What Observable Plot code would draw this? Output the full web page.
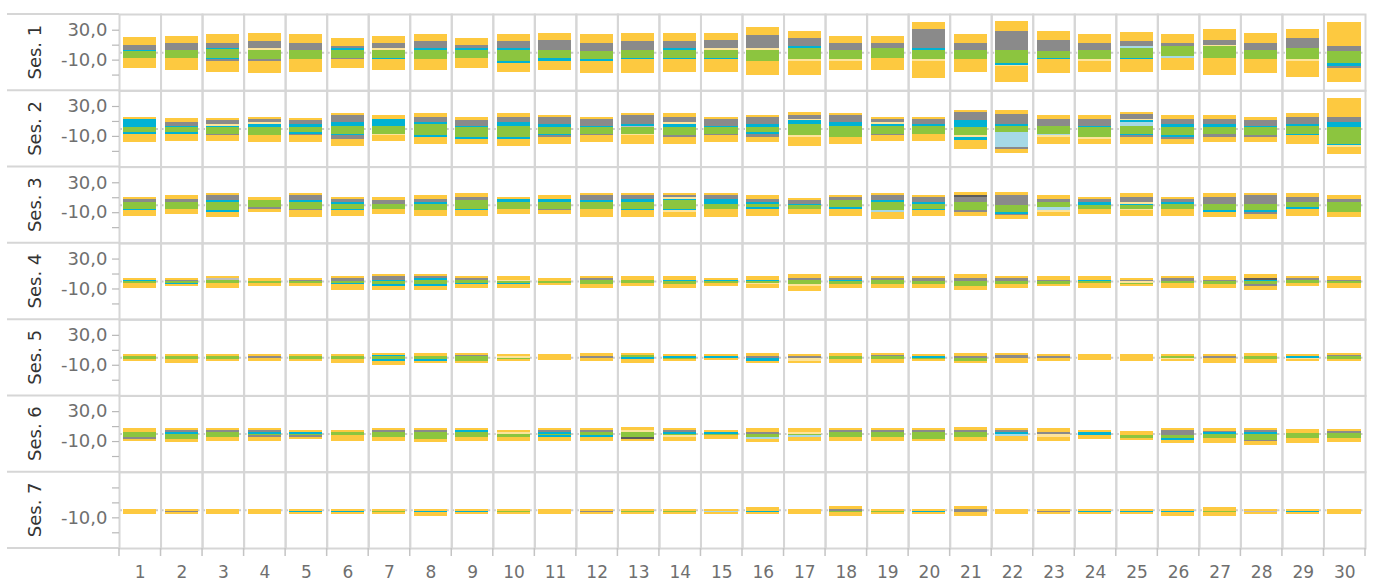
<!DOCTYPE html>
<html>
<head>
<meta charset="utf-8">
<script src="https://cdn.jsdelivr.net/npm/d3@7"></script>
<script src="https://cdn.jsdelivr.net/npm/@observablehq/plot@0.6"></script>
<style>
  body { margin: 0; background: #fff; }
</style>
</head>
<body>
<div id="chart"></div>
<script>
// ---- categories & colours ----
const catKeys   = ["Y", "G", "C", "N", "L", "B", "S", "D"];
const catColors = ["#fdc940", "#8a8a8a", "#00b2d3", "#8cc53f", "#fde49b", "#a6d9e6", "#bdbdbd", "#5c5c5c"];

// ---- axes ----
const days = [1,2,3,4,5,6,7,8,9,10,11,12,13,14,15,16,17,18,19,20,21,22,23,24,25,26,27,28,29,30];
const xLabels = ["1","2","3","4","5","6","7","8","9","10","11","12","13","14","15","16","17","18","19","20","21","22","23","24","25","26","27","28","29","30"];
const sessions = ["Ses. 1", "Ses. 2", "Ses. 3", "Ses. 4", "Ses. 5", "Ses. 6", "Ses. 7"];
const yTicks = [30, 10, -10, -30];
const yLabelValues = [30, -10];
const yLabelTexts = ["30,0", "-10,0"];

// ---- data: each cell lists [category, value] pairs, stacked outward from zero in order ----
const ses1 = [
  ["N",1.8,"C",1.3,"G",6.7,"Y",10.7,"N",-7.6,"Y",-13.4],
  ["N",3.1,"G",9.4,"Y",9.4,"N",-7.6,"Y",-16.1],
  ["N",3.6,"C",2.2,"G",6.7,"Y",12.1,"N",-7.2,"C",-1.8,"G",-2.2,"Y",-15.2],
  ["N",3.1,"L",2.7,"G",9.4,"Y",10.7,"N",-8.9,"G",-2.7,"Y",-16.1],
  ["N",3.1,"G",9.4,"Y",12.1,"N",-8.9,"Y",-17.4],
  ["N",3.1,"C",2.7,"G",2.7,"Y",10.7,"N",-7.6,"G",-1.3,"Y",-12.1],
  ["N",3.1,"L",2.7,"G",6.7,"Y",9.4,"N",-7.6,"C",-1.3,"Y",-14.8],
  ["N",3.1,"C",2.7,"G",9.4,"Y",9.4,"N",-8.9,"Y",-14.8],
  ["N",3.1,"C",2.7,"G",4,"Y",9.4,"N",-7.6,"Y",-13.4],
  ["N",3.1,"C",2.7,"G",9.4,"Y",9.4,"N",-11.6,"C",-2.7,"Y",-12.1],
  ["N",3.1,"G",13.4,"Y",9.4,"N",-7.6,"C",-4,"Y",-12.1],
  ["N",1.8,"G",10.7,"Y",12.1,"N",-8.9,"C",-2.7,"Y",-16.1],
  ["N",3.1,"G",12.1,"Y",10.7,"N",-7.6,"C",-1.3,"Y",-18.8],
  ["N",3.1,"C",2.7,"G",9.4,"Y",10.7,"N",-7.6,"C",-1.3,"Y",-17.4],
  ["N",3.1,"L",2.7,"G",10.7,"Y",9.4,"N",-7.6,"C",-1.3,"Y",-17.4],
  ["N",3.1,"L",2.2,"G",17.9,"Y",10.7,"N",-11.6,"Y",-18.8],
  ["N",5.8,"C",2.7,"G",10.7,"Y",9.4,"N",-8.9,"L",-2.7,"Y",-18.8],
  ["N",3.1,"G",9.4,"Y",9.4,"N",-8.9,"L",-2.7,"Y",-12.1],
  ["N",5.8,"G",6.7,"Y",9.4,"N",-7.6,"Y",-16.1],
  ["N",3.1,"C",2.7,"G",25.5,"Y",9.4,"N",-8.9,"L",-2.7,"Y",-22.8],
  ["N",3.1,"G",9.4,"Y",12.1,"N",-8.9,"Y",-17.4],
  ["N",3.1,"G",25.5,"Y",13.4,"N",-14.3,"C",-2.7,"L",-1.3,"Y",-21.5],
  ["N",1.8,"G",14.8,"Y",12.1,"N",-7.6,"C",-1.3,"Y",-18.8],
  ["N",3.1,"G",9.4,"Y",12.1,"N",-8.9,"L",-2.7,"Y",-14.8],
  ["N",5.8,"B",2.7,"G",6.7,"Y",12.1,"N",-7.6,"C",-1.3,"Y",-17.4],
  ["N",8.5,"G",4,"Y",12.1,"N",-4.9,"B",-2.7,"Y",-16.1],
  ["N",8.5,"L",1.3,"G",6.7,"Y",14.8,"N",-7.6,"Y",-22.8],
  ["N",3.1,"G",9.4,"Y",13.4,"N",-8.9,"Y",-18.8],
  ["N",5.8,"G",13.4,"Y",12.1,"N",-8.9,"L",-2.7,"Y",-21.5],
  ["N",1.8,"G",6.7,"Y",32.2,"N",-14.3,"C",-4,"G",-2.7,"Y",-18.8]
];
const ses2 = [
  ["N",1.8,"C",10.7,"Y",2.7,"N",-4.9,"C",-2.7,"Y",-10.7],
  ["N",1.8,"C",1.3,"G",5.4,"Y",5.4,"N",-4.9,"C",-2.7,"Y",-9.4],
  ["N",1.8,"C",1.3,"L",2.7,"G",5.4,"Y",2.7,"N",-7.6,"G",-1.3,"Y",-8],
  ["N",2,"C",4,"L",2.7,"G",4,"Y",2.7,"N",-8.7,"Y",-9.4],
  ["N",2,"C",4,"G",5.4,"Y",2.7,"N",-4.7,"C",-2.7,"G",-1.3,"Y",-9.4],
  ["N",3.4,"C",5.4,"G",9.4,"Y",2.7,"N",-7.4,"C",-1.3,"G",-5.4,"Y",-9.4],
  ["N",3.4,"C",9.4,"Y",5.4,"N",-7.4,"L",-1.3,"Y",-8],
  ["N",6,"C",2.7,"G",6.7,"Y",5.4,"N",-8.7,"C",-2.7,"Y",-9.4],
  ["N",2,"C",1.3,"G",8,"Y",4,"N",-11.4,"C",-2.7,"Y",-6.7],
  ["N",3.4,"C",5.4,"G",6.7,"Y",5.4,"N",-11.4,"C",-2.7,"Y",-9.4],
  ["N",2,"C",4,"G",9.4,"Y",2.7,"N",-7.4,"C",-1.3,"G",-2.7,"Y",-9.4],
  ["N",2,"C",1.3,"G",9.4,"Y",2.7,"N",-7.4,"G",-1.3,"Y",-9.4],
  ["N",2,"S",1.3,"C",2.7,"G",12.1,"Y",2.7,"N",-7.4,"L",-1.3,"Y",-12.1],
  ["N",2,"C",4,"L",2.7,"G",6.7,"Y",5.4,"N",-8.7,"G",-2.7,"Y",-9.4],
  ["N",2,"C",1.3,"G",9.4,"Y",2.7,"N",-7.4,"G",-1.3,"Y",-9.4],
  ["N",1.8,"C",4,"G",9.4,"Y",2.7,"N",-4.9,"C",-2.7,"G",-4,"Y",-6.7],
  ["N",5.8,"C",5.4,"L",1.3,"G",5.4,"Y",4,"N",-8.9,"L",-2.7,"Y",-12.1],
  ["N",3.1,"C",5.4,"G",9.4,"Y",2.7,"N",-11.6,"Y",-9.4],
  ["N",3.1,"C",2.7,"L",2.7,"G",4,"Y",2.7,"N",-7.6,"G",-1.3,"Y",-8],
  ["N",3.1,"C",2.7,"G",6.7,"Y",2.7,"N",-7.6,"Y",-9.4],
  ["N",1.8,"C",9.4,"G",10.7,"Y",2.7,"N",-8.9,"L",-2.2,"C",-4,"Y",-12.5],
  ["N",3.1,"C",2.7,"G",13.4,"Y",5.4,"N",-4.9,"B",-20.1,"G",-2.7,"Y",-5.4],
  ["N",3.4,"G",9.4,"Y",5.4,"N",-7.4,"B",-1.3,"L",-2.7,"Y",-9.4],
  ["N",2,"C",1.3,"G",9.4,"Y",5.4,"N",-11.4,"L",-2.7,"Y",-6.7],
  ["N",3.4,"B",5.4,"C",2.7,"L",1.3,"G",6.7,"Y",2.7,"N",-7.4,"C",-1.3,"G",-2.7,"Y",-9.4],
  ["N",1.8,"C",4,"G",6.7,"Y",5.4,"N",-8.9,"C",-2.7,"G",-2.7,"Y",-6.7],
  ["N",1.8,"C",4,"G",6.7,"Y",5.4,"N",-7.6,"G",-4,"Y",-6.7],
  ["N",1.8,"C",1.3,"G",8,"Y",4,"N",-8.9,"G",-2.7,"Y",-6.7],
  ["N",3.1,"C",2.7,"G",9.4,"Y",5.4,"N",-7.6,"C",-1.3,"Y",-12.1],
  ["N",1.8,"C",6.7,"G",6.7,"Y",25.5,"N",-21,"C",-1.3,"L",-2.7,"Y",-9.4]
];
const ses3 = [
  ["N",4,"G",4,"Y",2.7,"N",-5.4,"C",-1.3,"Y",-8],
  ["N",4,"G",4,"Y",5.4,"N",-5.4,"Y",-6.7],
  ["N",4,"C",2.7,"G",6.7,"Y",2.7,"N",-6.7,"C",-2.7,"Y",-6.7],
  ["N",6.7,"Y",4,"N",-2.7,"G",-2.7,"Y",-4],
  ["N",4,"C",2.7,"G",6.7,"Y",2.7,"N",-5.4,"G",-1.3,"Y",-9.4],
  ["N",1.3,"C",2.7,"G",4,"Y",2.7,"N",-5.4,"C",-1.3,"Y",-8],
  ["N",1.3,"G",5.4,"Y",4,"N",-5.4,"Y",-6.7],
  ["N",1.3,"C",2.7,"G",4,"Y",5.4,"N",-6.7,"Y",-8],
  ["N",6.7,"G",4,"Y",5.4,"N",-5.4,"C",-1.3,"Y",-8],
  ["N",4,"C",4,"Y",2.7,"N",-5.4,"Y",-6.7],
  ["N",4,"C",4,"Y",5.4,"N",-5.4,"G",-1.3,"Y",-5.4],
  ["N",4,"C",2.7,"G",6.7,"Y",2.7,"N",-5.4,"Y",-10.7],
  ["N",4,"C",4,"G",5.4,"Y",2.7,"N",-5.4,"C",-1.3,"Y",-9.4],
  ["N",6.7,"C",1.3,"L",2.7,"G",2.7,"Y",2.7,"N",-5.4,"C",-1.3,"L",-2.7,"Y",-6.7],
  ["N",1.3,"C",6.7,"G",5.4,"Y",2.7,"N",-5.4,"Y",-10.7],
  ["N",1.3,"C",2.7,"G",4,"Y",5.4,"N",-2.7,"C",-2.7,"Y",-9.4],
  ["C",1.3,"G",5.4,"Y",2.7,"N",-5.4,"Y",-6.7],
  ["N",6.7,"G",4,"Y",2.7,"N",-2.7,"C",-2.7,"Y",-9.4],
  ["N",4,"C",2.7,"G",6.7,"Y",2.7,"N",-6.7,"B",-2.7,"Y",-9.4],
  ["N",1.3,"C",2.7,"G",6.7,"Y",2.7,"N",-5.4,"C",-1.3,"Y",-8],
  ["N",4,"G",6.7,"D",2.7,"Y",4,"N",-6.7,"G",-2.7,"Y",-5.4],
  ["G",13.4,"Y",4,"N",-9.4,"C",-2.7,"G",-1.3,"Y",-5.4],
  ["N",4,"G",4,"Y",5.4,"N",-2.7,"B",-4,"L",-2.7,"Y",-5.4],
  ["C",4,"G",4,"Y",2.7,"N",-5.4,"Y",-6.7],
  ["C",1.3,"L",2.7,"G",6.7,"Y",5.4,"N",-5.4,"L",-1.3,"Y",-8],
  ["N",1.3,"C",2.7,"G",4,"Y",2.7,"N",-5.4,"Y",-9.4],
  ["N",1.3,"G",9.4,"Y",5.4,"N",-6.7,"C",-2.7,"Y",-6.7],
  ["N",1.3,"G",12.1,"Y",2.7,"N",-6.7,"C",-2.7,"G",-2.7,"Y",-6.7],
  ["N",4,"G",6.7,"Y",5.4,"N",-2.7,"C",-2.7,"Y",-9.4],
  ["N",4,"G",4,"Y",5.4,"N",-9.4,"Y",-6.7]
];
const ses4 = [
  ["C",1.3,"Y",2.7,"N",-2.7,"Y",-6.7],
  ["G",1.3,"Y",2.7,"N",-2.7,"C",-1.3,"Y",-2.7],
  ["N",1.3,"S",2.7,"Y",2.7,"N",-2.7,"Y",-6.7],
  ["Y",4,"N",-2.7,"Y",-4],
  ["G",1.3,"Y",2.7,"N",-2.7,"Y",-4],
  ["G",4,"Y",2.7,"N",-2.7,"C",-1.3,"Y",-8],
  ["C",1.3,"G",5.4,"Y",2.7,"N",-4,"C",-2.7,"Y",-5.4],
  ["N",1.3,"C",2.7,"G",2.7,"Y",2.7,"N",-4,"C",-2.7,"Y",-5.4],
  ["N",1.3,"G",2.7,"Y",2.7,"N",-2.7,"C",-1.3,"Y",-5.4],
  ["L",1.3,"Y",5.4,"N",-2.7,"C",-1.3,"Y",-5.4],
  ["Y",4,"N",-2.7,"Y",-2.7],
  ["N",1.3,"G",2.7,"Y",2.7,"N",-4,"Y",-5.4],
  ["N",1.3,"Y",5.4,"N",-2.7,"Y",-4],
  ["C",1.3,"Y",5.4,"N",-4,"Y",-5.4],
  ["C",1.3,"Y",2.7,"N",-2.7,"Y",-4],
  ["C",1.3,"Y",5.4,"N",-2.7,"L",-1.3,"Y",-5.4],
  ["N",1.3,"G",2.7,"Y",5.4,"N",-4,"L",-2.7,"Y",-6.7],
  ["C",1.3,"G",2.7,"Y",2.7,"N",-4,"Y",-5.4],
  ["N",1.3,"G",2.7,"Y",2.7,"N",-4,"Y",-5.4],
  ["G",4,"Y",2.7,"N",-4,"Y",-5.4],
  ["G",4,"Y",5.4,"N",-6.7,"Y",-5.4],
  ["G",4,"Y",2.7,"N",-4,"Y",-5.4],
  ["G",1.3,"Y",5.4,"N",-4,"Y",-2.7],
  ["C",1.3,"Y",5.4,"N",-2.7,"Y",-6.7],
  ["G",1.3,"Y",2.7,"L",-2.7,"N",-1.3,"Y",-2.7],
  ["G",4,"Y",2.7,"N",-2.7,"Y",-6.7],
  ["G",1.3,"Y",5.4,"N",-4,"Y",-5.4],
  ["C",1.3,"D",2.7,"Y",5.4,"N",-4,"G",-2.7,"Y",-5.4],
  ["N",1.3,"G",2.7,"Y",2.7,"N",-2.7,"Y",-4],
  ["G",1.3,"Y",5.4,"N",-2.7,"Y",-6.7]
];
const ses5 = [
  ["N",1.8,"Y",2.7,"N",-2.2,"Y",-2.7],
  ["N",1.8,"Y",2.7,"N",-2.2,"Y",-5.4],
  ["N",1.8,"Y",2.7,"N",-2.2,"Y",-2.7],
  ["G",1.8,"Y",2.7,"G",-0.9,"Y",-4],
  ["N",1.8,"Y",2.7,"N",-2.2,"Y",-2.7],
  ["N",1.8,"Y",2.7,"N",-2.2,"Y",-5.4],
  ["N",1.8,"C",1.3,"Y",2.7,"N",-2.2,"C",-2.7,"Y",-5.4],
  ["N",1.8,"Y",4,"N",-2.2,"C",-2.7,"Y",-2.7],
  ["N",1.8,"G",1.3,"Y",2.7,"N",-4.9,"Y",-2.7],
  ["L",1.8,"Y",2.7,"L",-0.9,"N",-1.3,"Y",-2.7],
  ["Y",4.5,"Y",-3.6],
  ["G",1.8,"Y",4,"G",-0.9,"Y",-4],
  ["N",3.1,"Y",2.7,"C",-2.2,"Y",-5.4],
  ["C",1.8,"Y",2.7,"C",-0.9,"N",-1.3,"Y",-2.7],
  ["C",1.8,"Y",2.7,"C",-0.9,"Y",-2.7],
  ["G",1.8,"Y",4,"G",-0.9,"C",-4,"Y",-2.7],
  ["G",1.8,"Y",2.7,"G",-0.9,"L",-4,"Y",-2.7],
  ["N",1.8,"Y",4,"N",-2.2,"Y",-5.4],
  ["N",1.8,"G",1.3,"Y",2.7,"N",-2.2,"Y",-5.4],
  ["C",1.8,"Y",2.7,"C",-0.9,"N",-1.3,"Y",-2.7],
  ["G",1.8,"Y",4,"G",-0.9,"N",-4,"Y",-2.7],
  ["G",3.1,"Y",2.7,"G",-0.9,"Y",-6.7],
  ["G",1.8,"Y",2.7,"G",-0.9,"Y",-4],
  ["Y",4.5,"Y",-3.6],
  ["Y",4.5,"Y",-4.9],
  ["N",1.8,"Y",2.7,"N",-0.9,"L",-1.3,"Y",-2.7],
  ["G",1.8,"Y",2.7,"G",-0.9,"Y",-6.7],
  ["N",1.8,"Y",4,"N",-2.2,"Y",-5.4],
  ["C",1.8,"Y",2.7,"C",-0.9,"L",-1.3,"Y",-2.7],
  ["N",1.8,"G",1.3,"Y",2.7,"N",-2.2,"Y",-2.7]
];
const ses6 = [
  ["N",1.8,"Y",5.4,"N",-4.9,"G",-2.7,"Y",-2.7],
  ["C",1.8,"G",2.7,"Y",2.7,"C",-0.9,"N",-6.7,"Y",-4],
  ["N",1.8,"G",2.7,"Y",2.7,"N",-4.9,"Y",-5.4],
  ["C",1.8,"G",2.7,"Y",2.7,"C",-0.9,"N",-1.3,"G",-2.7,"Y",-5.4],
  ["C",1.8,"Y",2.7,"C",-0.9,"N",-1.3,"G",-2.7,"Y",-2.7],
  ["N",1.8,"Y",2.7,"N",-2.2,"Y",-8],
  ["N",1.8,"G",2.7,"Y",2.7,"N",-4.9,"Y",-5.4],
  ["N",1.8,"G",2.7,"Y",2.7,"N",-7.6,"Y",-4],
  ["N",1.8,"C",2.7,"Y",2.7,"N",-4.9,"Y",-5.4],
  ["L",1.8,"Y",2.7,"L",-0.9,"N",-4,"Y",-5.4],
  ["C",1.8,"G",2.7,"Y",2.7,"N",-2.2,"C",-2.7,"Y",-5.4],
  ["N",1.8,"G",2.7,"Y",2.7,"N",-2.2,"C",-2.7,"Y",-5.4],
  ["N",2.2,"L",2.7,"Y",3.6,"N",-4.9,"D",-2.7,"Y",-2.7],
  ["C",1.8,"G",2.7,"Y",2.7,"C",-0.9,"N",-1.3,"L",-2.7,"Y",-5.4],
  ["C",1.8,"Y",2.7,"C",-0.9,"N",-1.3,"Y",-5.4],
  ["G",1.8,"Y",5.4,"G",-0.9,"N",-4,"B",-2.7,"Y",-4],
  ["L",1.8,"Y",5.4,"L",-0.9,"N",-1.3,"B",-2.7,"Y",-5.4],
  ["N",1.8,"G",2.7,"Y",2.7,"N",-4.9,"Y",-5.4],
  ["N",1.8,"G",2.7,"Y",2.7,"N",-4.9,"Y",-5.4],
  ["N",1.8,"G",2.7,"Y",2.7,"N",-7.6,"Y",-2.7],
  ["N",1.8,"G",2.7,"Y",4,"N",-4.9,"Y",-5.4],
  ["C",1.8,"G",2.7,"Y",2.7,"C",-0.9,"B",-2.7,"Y",-6.7],
  ["G",1.8,"Y",5.4,"G",-0.9,"L",-4,"Y",-5.4],
  ["C",1.8,"Y",2.7,"C",-2.2,"Y",-5.4],
  ["Y",4,"Y",-1.3,"N",-4,"Y",-2.7],
  ["G",5.4,"Y",2.7,"G",-1.3,"N",-4,"C",-2.7,"Y",-4],
  ["C",2.7,"G",1.3,"Y",4,"N",-5.4,"Y",-6.7],
  ["C",2.7,"G",2.7,"Y",2.7,"N",-8,"G",-1.3,"Y",-5.4],
  ["N",1.3,"Y",5.4,"N",-5.4,"Y",-6.7],
  ["N",1.3,"G",2.7,"Y",2.7,"N",-5.4,"Y",-5.4]
];
const ses7 = [
  ["Y",1.3,"Y",-5.3],
  ["Y",1.3,"Y",-1.3,"G",-1.3,"Y",-2.7],
  ["Y",1.3,"Y",-5.3],
  ["Y",1.3,"Y",-5.3],
  ["Y",1.3,"Y",-1.3,"C",-1.3,"Y",-2.7],
  ["Y",1.3,"Y",-1.3,"C",-1.3,"Y",-2.7],
  ["Y",1.3,"Y",-1.3,"N",-1.3,"Y",-2.7],
  ["Y",1.3,"Y",-1.3,"C",-1.3,"Y",-5.4],
  ["Y",1.3,"Y",-1.3,"C",-1.3,"Y",-2.7],
  ["Y",1.3,"Y",-1.3,"N",-1.3,"Y",-2.7],
  ["Y",1.3,"Y",-5.3],
  ["Y",1.3,"Y",-1.3,"G",-1.3,"Y",-2.7],
  ["Y",1.3,"Y",-1.3,"N",-1.3,"Y",-2.7],
  ["Y",1.3,"Y",-1.3,"N",-1.3,"Y",-2.7],
  ["Y",1.3,"Y",-1.3,"B",-1.3,"Y",-2.7],
  ["Y",4,"Y",-1.3,"C",-1.3,"Y",-2.7],
  ["Y",1.3,"Y",-5.3],
  ["G",1.8,"Y",2.7,"G",-0.9,"N",-1.3,"Y",-5.4],
  ["Y",1.3,"Y",-1.3,"N",-1.3,"Y",-2.7],
  ["Y",1.3,"Y",-1.3,"C",-1.3,"Y",-2.7],
  ["G",1.8,"Y",2.7,"G",-2.2,"Y",-5.4],
  ["Y",1.3,"Y",-5.3],
  ["Y",1.3,"Y",-1.3,"G",-1.3,"Y",-2.7],
  ["Y",1.3,"Y",-1.3,"C",-1.3,"Y",-2.7],
  ["Y",1.3,"Y",-1.3,"C",-1.3,"Y",-2.7],
  ["Y",1.3,"Y",-1.3,"C",-1.3,"Y",-5.4],
  ["Y",3.6,"Y",-1.3,"N",-1.3,"Y",-5.4],
  ["Y",1.3,"Y",-1.3,"S",-1.3,"Y",-2.7],
  ["Y",1.3,"Y",-1.3,"C",-1.3,"Y",-2.7],
  ["Y",1.3,"Y",-5.3]
];

// ---- build tidy tables ----
const sesData = [ses1, ses2, ses3, ses4, ses5, ses6, ses7];
const rows = [];
sessions.forEach((s, si) => {
  sesData[si].forEach((cell, di) => {
    for (let k = 0; k < cell.length; k += 2) {
      rows.push({ses: s, day: days[di], cat: cell[k], value: cell[k + 1]});
    }
  });
});
const yLabelRows = [];
sessions.forEach((s, si) => {
  yLabelValues.forEach((v, j) => {
    if (si === sessions.length - 1 && v > 0) return; // last row shows only the lower label
    yLabelRows.push({ses: s, day: days[0], v, label: yLabelTexts[j]});
  });
});

const FONT = "DejaVu Sans, sans-serif";

const plot = Plot.plot({
  width: 1374,
  height: 579,
  marginLeft: 119,
  marginRight: 9,
  marginTop: 14,
  marginBottom: 31,
  style: {fontFamily: FONT, background: "#fff", overflow: "visible"},
  fx: {domain: days, padding: 0, round: false, label: null},
  fy: {domain: sessions, padding: 0, round: false, axis: null, label: null},
  y: {domain: [-51, 51], label: null},
  color: {domain: catKeys, range: catColors},
  marks: [
    Plot.ruleY([0], {stroke: "#cacaca", strokeWidth: 2, strokeDasharray: "3,3"}),
    Plot.barY(rows, Plot.stackY({
      fx: "day", fy: "ses", y: "value", fill: "cat", order: null,
      insetLeft: 4, insetRight: 4.5, shapeRendering: "crispEdges"
    })),
    Plot.frame({stroke: "#d6d6d6", strokeWidth: 2}),
    Plot.axisY({ticks: yTicks, tickSize: 7, tickFormat: () => "", stroke: "#b8b8b8", strokeWidth: 1.2}),
    Plot.text(yLabelRows, {
      fx: "day", fy: "ses", y: "v", text: "label", frameAnchor: "left",
      textAnchor: "end", dx: -12, fill: "#6f6f6f", fontSize: 18
    }),
    Plot.axisFx({
      anchor: "bottom", tickSize: 0, tickPadding: 17, fontSize: 17,
      fill: "#6f6f6f", label: null,
      tickFormat: d => xLabels[days.indexOf(d)]
    })
  ]
});

// row headers (rotated), separators continuing into the header column, boundary ticks under the x axis
const fxS = plot.scale("fx"), fyS = plot.scale("fy");
const svg = d3.select(plot);
const g = svg.append("g");
const rowEdges = sessions.map(s => fyS.apply(s)).concat([fyS.apply(sessions[sessions.length - 1]) + fyS.bandwidth]);
rowEdges.forEach(y => {
  g.append("line").attr("x1", 7).attr("x2", 119).attr("y1", y).attr("y2", y)
    .attr("stroke", "#d6d6d6").attr("stroke-width", 2);
});
sessions.forEach(s => {
  const yc = fyS.apply(s) + fyS.bandwidth / 2;
  g.append("text")
    .attr("transform", `translate(35,${yc}) rotate(-90)`)
    .attr("text-anchor", "middle")
    .attr("dy", "0.35em")
    .attr("fill", "#333")
    .attr("font-size", 18)
    .attr("font-family", FONT)
    .text(s);
});
const colEdges = days.map(d => fxS.apply(d)).concat([fxS.apply(days[days.length - 1]) + fxS.bandwidth]);
const yBottom = rowEdges[rowEdges.length - 1];
colEdges.forEach(x => {
  g.append("line").attr("x1", x).attr("x2", x).attr("y1", yBottom).attr("y2", yBottom + 8)
    .attr("stroke", "#c4c4c4").attr("stroke-width", 1.5);
});

document.getElementById("chart").appendChild(plot);
</script>
</body>
</html>
